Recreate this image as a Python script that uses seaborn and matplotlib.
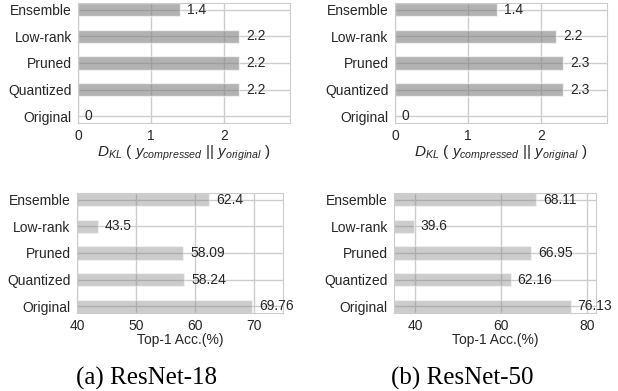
import numpy as np
import pandas as pd
import matplotlib
matplotlib.use('Agg')
import matplotlib.pyplot as plt
import seaborn as sns

# data (display order, top to bottom)
methods = ['Ensemble', 'Low-rank', 'Pruned', 'Quantized', 'Original']
kl_r18 = [1.4, 2.2, 2.2, 2.2, 0]
kl_r50 = [1.4, 2.2, 2.3, 2.3, 0]
acc_r18 = [62.4, 43.5, 58.09, 58.24, 69.76]
acc_r50 = [68.11, 39.6, 66.95, 62.16, 76.13]
captions = ['(a) ResNet-18', '(b) ResNet-50']

sns.set_style('whitegrid')
plt.rcParams['font.family'] = ['Liberation Sans', 'DejaVu Sans']
plt.rcParams['mathtext.fontset'] = 'custom'
plt.rcParams['mathtext.rm'] = 'Liberation Sans'
plt.rcParams['mathtext.it'] = 'Liberation Sans:italic'
plt.rcParams['mathtext.bf'] = 'Liberation Sans:bold'

W, H = 618, 391
fig = plt.figure(figsize=(W / 100, H / 100), dpi=100)


def box(l, t, r, b):
    return [l / W, 1 - b / H, (r - l) / W, (b - t) / H]


def panel(rect, vals, color, alpha, xlim, xticks, xlabel, lsize, lpad):
    ax = fig.add_axes(rect)
    sns.barplot(x=vals, y=methods, orient='h', color=color, alpha=alpha,
                width=0.5, ax=ax, saturation=1)
    ax.bar_label(ax.containers[0], labels=['%g' % v for v in vals],
                 padding=5, fontsize=10, color='.15', clip_on=False)
    ax.set_xlim(*xlim)
    ax.set_xticks(xticks)
    ax.set_ylim(4.25, -0.25)
    ax.grid(True, axis='both', color='.8', lw=1)
    ax.set_axisbelow(True)
    ax.set_xlabel(xlabel, fontsize=lsize, color='.15', labelpad=lpad)
    ax.set_ylabel('')
    ax.tick_params(axis='both', labelsize=10, pad=1, colors='.15')
    for s in ax.spines.values():
        s.set_color('.8')
    return ax


kl_label = r'$D_{KL}$ ( $y_{compressed}$ || $y_{original}$ )'

panel(box(78, 3, 290, 123), kl_r18, 'gray', 0.6, (0, 2.9), [0, 1, 2], kl_label, 11, 0)
panel(box(395, 3, 607, 123), kl_r50, 'gray', 0.6, (0, 2.9), [0, 1, 2], kl_label, 11, 0)
panel(box(77, 193, 283, 313), acc_r18, 'gray', 0.4, (40, 75), [40, 50, 60, 70], 'Top-1 Acc.(%)', 10, 0)
panel(box(394, 193, 596, 313), acc_r50, 'gray', 0.4, (35, 82), [40, 60, 80], 'Top-1 Acc.(%)', 10, 0)

fig.text(147 / W, 1 - 378 / H, captions[0], ha='center', va='center',
         fontsize=18, family='Liberation Serif', color='black')
fig.text(462 / W, 1 - 378 / H, captions[1], ha='center', va='center',
         fontsize=18, family='Liberation Serif', color='black')

fig.savefig('out.png', dpi=100)
